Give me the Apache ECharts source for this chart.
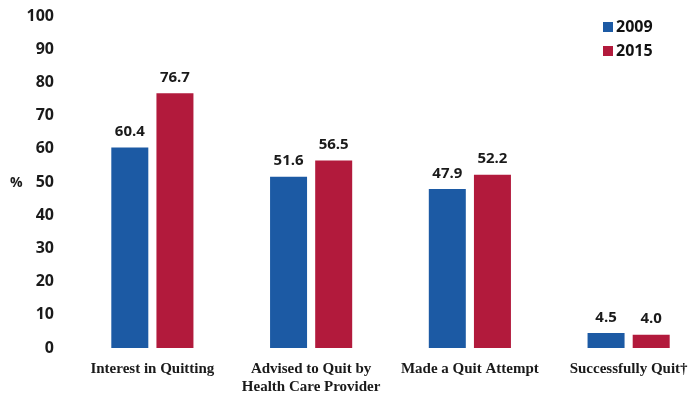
<!DOCTYPE html>
<html><head><meta charset="utf-8">
<script src="https://cdn.jsdelivr.net/npm/echarts@6/dist/echarts.min.js"></script>
<style>html,body{margin:0;padding:0;background:#fff}#c{width:690px;height:393px}</style>
</head><body><div id="c"></div>
<script>
const categories = ['Interest in Quitting', 'Advised to Quit by\nHealth Care Provider', 'Made a Quit Attempt', 'Successfully Quit\u2020'];
const values2009 = [60.4, 51.6, 47.9, 4.5];
const values2015 = [76.7, 56.5, 52.2, 4.0];
const yTicks = [0, 10, 20, 30, 40, 50, 60, 70, 80, 90, 100];

const chart = echarts.init(document.getElementById('c'));
const lbl = {show: true, position: 'top', distance: 8, fontFamily: 'Open Sans', fontWeight: 'bold', fontSize: 15, color: '#1a1a1a', formatter: p => p.value.toFixed(1)};
chart.setOption({
  animation: false,
  grid: {left: 73, right: -18, top: 16, bottom: 45, outerBoundsMode: 'none', containLabel: false},
  legend: {
    orient: 'vertical', left: 598, top: 14, itemWidth: 10, itemHeight: 10, itemGap: 8,
    icon: 'rect',
    textStyle: {fontFamily: 'Open Sans', fontWeight: 'bold', fontSize: 16, color: '#111', padding: [0,0,0,-2]},
    data: ['2009', '2015']
  },
  xAxis: {
    type: 'category', data: categories,
    axisLine: {show: false}, axisTick: {show: false},
    axisLabel: {interval: 0, margin: 12, fontFamily: 'Liberation Serif', fontWeight: 'bold', fontSize: 15, color: '#1a1a1a', lineHeight: 18, verticalAlign: 'top'}
  },
  yAxis: {
    type: 'value', min: yTicks[0], max: yTicks[yTicks.length-1], interval: 10,
    splitLine: {show: false}, axisLine: {show: false}, axisTick: {show: false},
    axisLabel: {margin: 19, fontFamily: 'Open Sans', fontWeight: 'bold', fontSize: 16, color: '#1a1a1a'}
  },
  graphic: [{type: 'text', left: 10, top: 176, style: {text: '%', fontFamily: 'Open Sans', fontWeight: 'bold', fontSize: 14, fill: '#1a1a1a'}}],
  series: [
    {name: '2009', type: 'bar', data: values2009, barWidth: 37, barGap: '22%', itemStyle: {color: '#1c5aa4'}, label: lbl},
    {name: '2015', type: 'bar', data: values2015, barWidth: 37, itemStyle: {color: '#b21a3c'}, label: lbl}
  ]
});
</script></body></html>
